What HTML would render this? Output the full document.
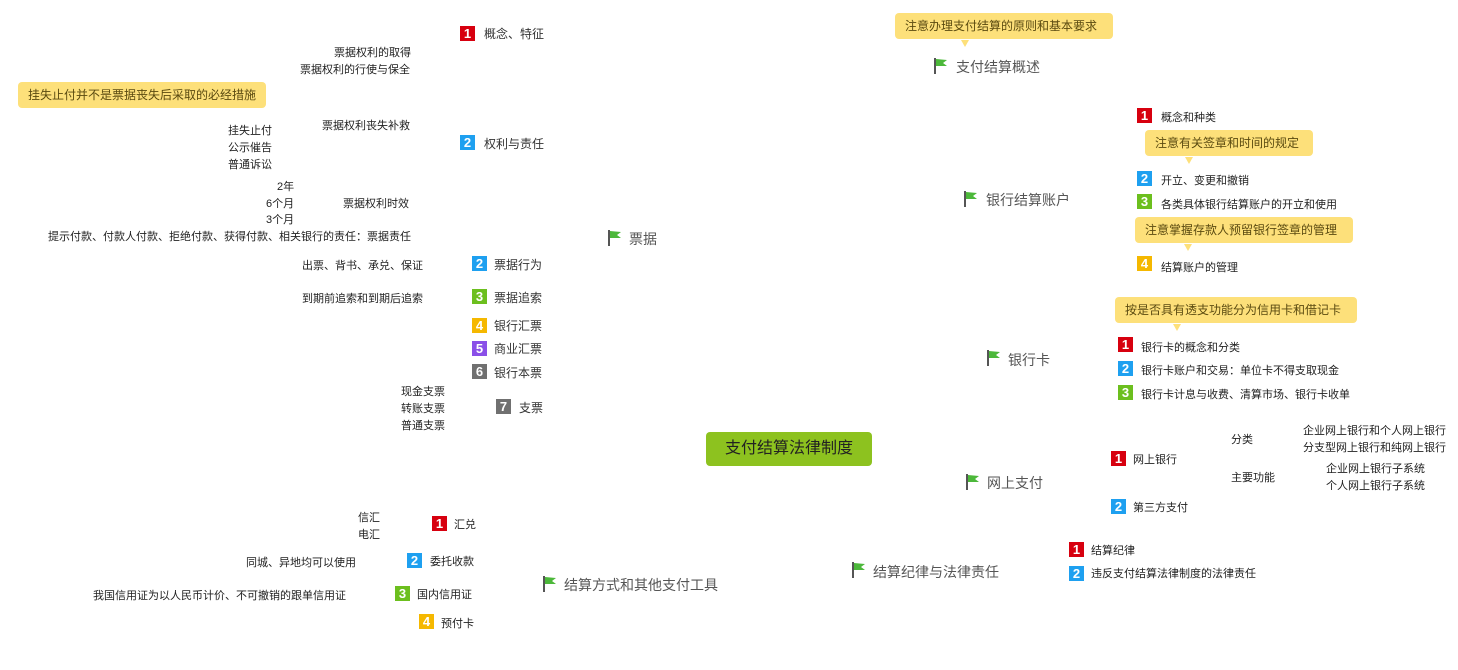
<!DOCTYPE html>
<html><head><meta charset="utf-8"><style>
body{margin:0;width:1458px;height:670px;background:#fff;position:relative;overflow:hidden;font-family:"Liberation Sans","Noto Sans CJK SC",sans-serif;}
.t{position:absolute;font-size:11px;line-height:16px;color:#222;white-space:nowrap;}
.m{position:absolute;font-size:14px;line-height:18px;color:#555;white-space:nowrap;}
.s{position:absolute;font-size:12px;line-height:16px;color:#333;white-space:nowrap;}
.b{position:absolute;width:15px;height:15px;color:#fff;font-weight:bold;font-size:13px;line-height:15px;text-align:center;font-family:"Liberation Sans",sans-serif;}
.c{position:absolute;background:#fde07a;border-radius:4px;font-size:12px;color:#5a4a10;line-height:26px;padding:0 10px;white-space:nowrap;}
.tail{position:absolute;width:0;height:0;border-left:4px solid transparent;border-right:4px solid transparent;border-top:7px solid #fde07a;}
.f{position:absolute;width:16px;height:16px;}
.r{background:#d7000f}.bl{background:#1ea0f0}.g{background:#6cbf1e}.o{background:#f5b800}.p{background:#8a4fe8}.gr{background:#707070}
</style></head><body>
<svg width="0" height="0" style="position:absolute"><defs><g id="fl"><rect x="1" y="0" width="2" height="16" fill="#555"/><path d="M3 1 L14 2 L10 5 L14 8 L3 8Z" fill="#4cb83a"/></g></defs></svg>

<div style="position:absolute;left:706px;top:432px;width:166px;height:34px;background:#8dc21f;border-radius:4px;font-size:16px;line-height:34px;text-align:center;color:#222">支付结算法律制度</div>

<!-- 票据 -->
<div class="b r" style="left:460px;top:26px">1</div><div class="s" style="left:484px;top:26px">概念、特征</div>
<div class="t" style="left:334px;top:45px">票据权利的取得</div>
<div class="t" style="left:300px;top:62px">票据权利的行使与保全</div>
<div class="c" style="left:18px;top:82px">挂失止付并不是票据丧失后采取的必经措施</div>
<div class="t" style="left:228px;top:123px">挂失止付</div>
<div class="t" style="left:228px;top:140px">公示催告</div>
<div class="t" style="left:228px;top:157px">普通诉讼</div>
<div class="t" style="left:322px;top:118px">票据权利丧失补救</div>
<div class="b bl" style="left:460px;top:135px">2</div><div class="s" style="left:484px;top:136px">权利与责任</div>
<div class="t" style="left:277px;top:179px">2年</div>
<div class="t" style="left:266px;top:196px">6个月</div>
<div class="t" style="left:266px;top:212px">3个月</div>
<div class="t" style="left:343px;top:196px">票据权利时效</div>
<div class="t" style="left:48px;top:229px">提示付款、付款人付款、拒绝付款、获得付款、相关银行的责任：票据责任</div>
<svg class="f" style="left:607px;top:230px"><use href="#fl"/></svg><div class="m" style="left:629px;top:230px">票据</div>
<div class="t" style="left:302px;top:258px">出票、背书、承兑、保证</div>
<div class="b bl" style="left:472px;top:256px">2</div><div class="s" style="left:494px;top:257px">票据行为</div>
<div class="t" style="left:302px;top:291px">到期前追索和到期后追索</div>
<div class="b g" style="left:472px;top:289px">3</div><div class="s" style="left:494px;top:290px">票据追索</div>
<div class="b o" style="left:472px;top:318px">4</div><div class="s" style="left:494px;top:318px">银行汇票</div>
<div class="b p" style="left:472px;top:341px">5</div><div class="s" style="left:494px;top:341px">商业汇票</div>
<div class="b gr" style="left:472px;top:364px">6</div><div class="s" style="left:494px;top:365px">银行本票</div>
<div class="t" style="left:401px;top:384px">现金支票</div>
<div class="t" style="left:401px;top:401px">转账支票</div>
<div class="t" style="left:401px;top:418px">普通支票</div>
<div class="b gr" style="left:496px;top:399px">7</div><div class="s" style="left:519px;top:400px">支票</div>

<!-- right -->
<div class="c" style="left:895px;top:13px;width:198px">注意办理支付结算的原则和基本要求</div><div class="tail" style="left:961px;top:40px"></div>
<svg class="f" style="left:933px;top:58px"><use href="#fl"/></svg><div class="m" style="left:956px;top:58px">支付结算概述</div>
<div class="b r" style="left:1137px;top:108px">1</div><div class="t" style="left:1161px;top:110px">概念和种类</div>
<div class="c" style="left:1145px;top:130px;width:148px">注意有关签章和时间的规定</div><div class="tail" style="left:1185px;top:157px"></div>
<div class="b bl" style="left:1137px;top:171px">2</div><div class="t" style="left:1161px;top:173px">开立、变更和撤销</div>
<div class="b g" style="left:1137px;top:194px">3</div><div class="t" style="left:1161px;top:197px">各类具体银行结算账户的开立和使用</div>
<div class="c" style="left:1135px;top:217px;width:198px">注意掌握存款人预留银行签章的管理</div><div class="tail" style="left:1184px;top:244px"></div>
<div class="b o" style="left:1137px;top:256px">4</div><div class="t" style="left:1161px;top:260px">结算账户的管理</div>
<svg class="f" style="left:963px;top:191px"><use href="#fl"/></svg><div class="m" style="left:986px;top:191px">银行结算账户</div>
<div class="c" style="left:1115px;top:297px;width:222px">按是否具有透支功能分为信用卡和借记卡</div><div class="tail" style="left:1173px;top:324px"></div>
<div class="b r" style="left:1118px;top:337px">1</div><div class="t" style="left:1141px;top:340px">银行卡的概念和分类</div>
<div class="b bl" style="left:1118px;top:361px">2</div><div class="t" style="left:1141px;top:363px">银行卡账户和交易：单位卡不得支取现金</div>
<div class="b g" style="left:1118px;top:385px">3</div><div class="t" style="left:1141px;top:387px">银行卡计息与收费、清算市场、银行卡收单</div>
<svg class="f" style="left:986px;top:350px"><use href="#fl"/></svg><div class="m" style="left:1008px;top:351px">银行卡</div>

<div class="b r" style="left:1111px;top:451px">1</div><div class="t" style="left:1133px;top:452px">网上银行</div>
<div class="t" style="left:1231px;top:432px">分类</div>
<div class="t" style="left:1303px;top:423px">企业网上银行和个人网上银行</div>
<div class="t" style="left:1303px;top:440px">分支型网上银行和纯网上银行</div>
<div class="t" style="left:1231px;top:470px">主要功能</div>
<div class="t" style="left:1326px;top:461px">企业网上银行子系统</div>
<div class="t" style="left:1326px;top:478px">个人网上银行子系统</div>
<div class="b bl" style="left:1111px;top:499px">2</div><div class="t" style="left:1133px;top:500px">第三方支付</div>
<svg class="f" style="left:965px;top:474px"><use href="#fl"/></svg><div class="m" style="left:987px;top:474px">网上支付</div>

<svg class="f" style="left:851px;top:562px"><use href="#fl"/></svg><div class="m" style="left:873px;top:563px">结算纪律与法律责任</div>
<div class="b r" style="left:1069px;top:542px">1</div><div class="t" style="left:1091px;top:543px">结算纪律</div>
<div class="b bl" style="left:1069px;top:566px">2</div><div class="t" style="left:1091px;top:566px">违反支付结算法律制度的法律责任</div>

<svg class="f" style="left:542px;top:576px"><use href="#fl"/></svg><div class="m" style="left:564px;top:576px">结算方式和其他支付工具</div>
<div class="t" style="left:358px;top:510px">信汇</div>
<div class="t" style="left:358px;top:527px">电汇</div>
<div class="b r" style="left:432px;top:516px">1</div><div class="t" style="left:454px;top:517px">汇兑</div>
<div class="t" style="left:246px;top:555px">同城、异地均可以使用</div>
<div class="b bl" style="left:407px;top:553px">2</div><div class="t" style="left:430px;top:554px">委托收款</div>
<div class="t" style="left:93px;top:588px">我国信用证为以人民币计价、不可撤销的跟单信用证</div>
<div class="b g" style="left:395px;top:586px">3</div><div class="t" style="left:417px;top:587px">国内信用证</div>
<div class="b o" style="left:419px;top:614px">4</div><div class="t" style="left:441px;top:616px">预付卡</div>
</body></html>
